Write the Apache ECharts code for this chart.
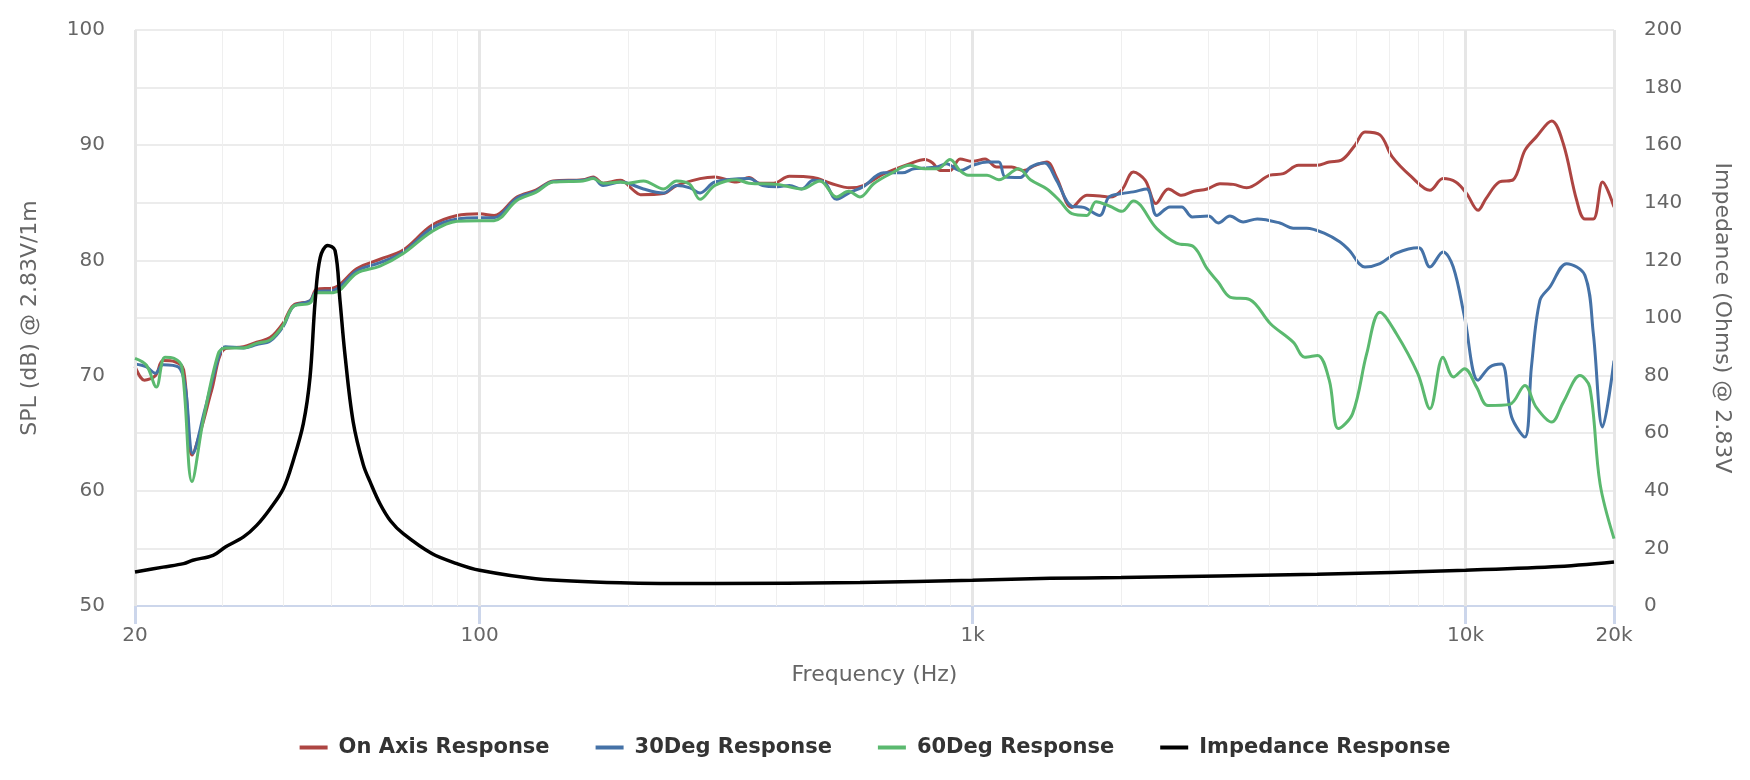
<!DOCTYPE html>
<html>
<head>
<meta charset="utf-8">
<script src="https://cdn.jsdelivr.net/npm/echarts@6/dist/echarts.min.js"></script>
<style>
html,body{margin:0;padding:0;background:#fff;}
#chart{width:1750px;height:780px;}
</style>
</head>
<body>
<div id="chart"></div>
<script>
// ---- data ----
const seriesNames = ['On Axis Response', '30Deg Response', '60Deg Response', 'Impedance Response'];
const xTickLabels = {20: '20', 100: '100', 1000: '1k', 10000: '10k', 20000: '20k'};
const majorFreqs = [20, 100, 1000, 10000, 20000];
const minorFreqs = [30, 40, 50, 60, 70, 80, 90, 200, 300, 400, 500, 600, 700, 800, 900,
  2000, 3000, 4000, 5000, 6000, 7000, 8000, 9000];

const onAxis = [
  [20, 70.8], [20.9, 69.6], [22, 70.0], [22.8, 71.3], [24.1, 71.2], [25.1, 70.5], [26.1, 63.1],
  [27.3, 65.5], [28.6, 68.7], [30.4, 72.3], [33.2, 72.5], [35.3, 72.9], [37.6, 73.3], [40.0, 74.6],
  [41.9, 76.1], [45.3, 76.5], [46.7, 77.5], [50.5, 77.6], [56.4, 79.3], [62.8, 80.1], [70, 80.9],
  [80, 83.05], [90, 83.9], [100, 84.05], [107, 83.9], [119, 85.5], [130, 86.1], [141, 86.9],
  [162, 87.0], [170, 87.25], [178, 86.7], [193, 86.95], [205, 86.1], [212, 85.7], [236, 85.8],
  [251, 86.5], [280, 87.1], [300, 87.25], [332, 86.8], [352, 87.2], [370, 86.7], [395, 86.7],
  [425, 87.3], [475, 87.2], [515, 86.7], [564, 86.3], [600, 86.5], [660, 87.5], [747, 88.4],
  [800, 88.75], [830, 88.45], [860, 87.8], [900, 87.8], [943, 88.8], [1000, 88.6], [1060, 88.8],
  [1119, 88.1], [1200, 88.1], [1268, 87.8], [1340, 88.25], [1415, 88.55], [1480, 87.2],
  [1590, 84.6], [1705, 85.65], [1813, 85.6], [1900, 85.5], [2007, 86.1], [2119, 87.67],
  [2240, 86.95], [2355, 84.93], [2495, 86.2], [2655, 85.65], [2810, 86.0], [2990, 86.2],
  [3175, 86.66], [3380, 86.6], [3597, 86.3], [4010, 87.4], [4269, 87.53], [4580, 88.25],
  [4980, 88.25], [5290, 88.54], [5600, 88.7], [5966, 90.0], [6250, 91.15], [6703, 90.9],
  [7100, 88.98], [7770, 87.24], [8466, 86.08], [9000, 87.1], [9550, 86.8], [10050, 85.8],
  [10600, 84.35], [11000, 85.36], [11700, 86.8], [12490, 87.0], [13190, 89.55], [13900, 90.7],
  [14950, 92.1], [15790, 90.1], [16800, 85.22], [17460, 83.6], [18160, 83.6], [18960, 86.8],
  [20000, 84.64]
];

const deg30 = [
  [20, 71.0], [21.1, 70.75], [22, 70.2], [22.8, 70.95], [24.5, 70.75], [25.3, 69.0], [26.2, 63.25],
  [27.7, 67.0], [29.7, 71.9], [30.5, 72.5], [33.2, 72.4], [35.3, 72.7], [37.6, 73.0], [40.0, 74.3],
  [41.9, 76.0], [45.3, 76.5], [46.7, 77.3], [50.5, 77.4], [56.4, 79.1], [62.8, 79.8], [70, 80.7],
  [80, 82.8], [90, 83.6], [100, 83.7], [107, 83.7], [119, 85.4], [130, 86.0], [141, 86.85],
  [162, 86.95], [170, 87.15], [178, 86.5], [193, 86.8], [200, 86.7], [215, 86.2], [236, 85.85],
  [251, 86.5], [267, 86.3], [280, 85.85], [300, 86.8], [352, 87.1], [375, 86.5], [402, 86.4],
  [425, 86.5], [450, 86.2], [475, 86.95], [500, 86.8], [530, 85.3], [564, 85.9], [600, 86.4],
  [660, 87.6], [720, 87.6], [760, 87.95], [846, 88.1], [885, 88.4], [943, 87.8], [1000, 88.25],
  [1070, 88.55], [1130, 88.55], [1165, 87.24], [1250, 87.2], [1310, 88.1], [1400, 88.45],
  [1480, 86.95], [1590, 84.7], [1680, 84.6], [1810, 83.9], [1890, 85.5], [2007, 85.8],
  [2119, 85.95], [2255, 86.2], [2364, 83.9], [2514, 84.64], [2655, 84.64], [2790, 83.77],
  [3010, 83.85], [3150, 83.25], [3326, 83.85], [3540, 83.34], [3780, 83.6], [4200, 83.25],
  [4470, 82.8], [4760, 82.8], [5190, 82.33], [5563, 81.6], [5800, 80.9], [6250, 79.43],
  [6703, 79.72], [7239, 80.64], [8030, 81.1], [8466, 79.43], [9000, 80.73], [9440, 79.43],
  [9950, 75.1], [10600, 69.6], [11200, 70.75], [11830, 71.0], [12400, 66.4], [13190, 64.66],
  [13600, 70.75], [14150, 76.53], [14830, 77.7], [16030, 79.72], [17460, 78.7], [18160, 73.64],
  [18960, 65.54], [20000, 71.3]
];

const deg60 = [
  [20, 71.5], [21.1, 70.9], [22.1, 69.0], [23.0, 71.6], [24.0, 71.5], [24.9, 70.75], [26.1, 60.8],
  [27.5, 66.1], [29.5, 71.9], [30.5, 72.4], [33.2, 72.4], [35.3, 72.8], [37.6, 73.1], [40.0, 74.4],
  [41.9, 76.0], [45.3, 76.3], [46.7, 77.2], [50.5, 77.2], [56.4, 78.9], [62.8, 79.5], [70, 80.6],
  [80, 82.5], [90, 83.4], [100, 83.45], [107, 83.45], [119, 85.2], [130, 85.9], [141, 86.8],
  [162, 86.9], [170, 87.1], [178, 86.7], [193, 86.8], [200, 86.7], [215, 86.9], [236, 86.2],
  [251, 86.9], [267, 86.6], [280, 85.3], [300, 86.5], [332, 87.0], [352, 86.7], [402, 86.6],
  [450, 86.2], [490, 86.9], [530, 85.5], [560, 86.0], [591, 85.5], [630, 86.65], [680, 87.5],
  [747, 88.25], [800, 87.95], [850, 87.95], [900, 88.75], [943, 87.8], [980, 87.4], [1070, 87.4],
  [1130, 87.0], [1240, 87.95], [1310, 87.0], [1415, 86.2], [1500, 85.2], [1590, 84.06],
  [1705, 83.9], [1780, 85.1], [1900, 84.7], [2007, 84.26], [2119, 85.16], [2364, 82.76],
  [2590, 81.5], [2810, 81.17], [2990, 79.28], [3150, 78.1], [3326, 76.82], [3650, 76.6],
  [4020, 74.5], [4470, 72.9], [4720, 71.6], [5010, 71.75], [5290, 69.6], [5520, 65.4],
  [5900, 66.7], [6301, 71.9], [6703, 75.5], [7239, 73.64], [8000, 70.17], [8466, 67.13],
  [9000, 71.6], [9450, 69.88], [9950, 70.6], [10530, 69.0], [11100, 67.4], [12290, 67.5],
  [13190, 69.15], [13900, 67.27], [14950, 65.97], [15790, 67.7], [17060, 70.0], [17860, 69.0],
  [18740, 60.6], [20000, 55.85]
];

const impedance = [
  [20, 11.8], [22.8, 13.5], [25.1, 14.7], [26.2, 15.9], [28.8, 17.6], [30.5, 20.5], [33.2, 24.0],
  [35.3, 28.0], [37.6, 33.8], [40.0, 40.8], [41.9, 50.6], [43.9, 63.3], [45.3, 79.5], [46.4, 106],
  [47.5, 121], [49.2, 125.2], [50.9, 123.5], [52.1, 106], [53.3, 87.6], [55.4, 64.0], [58.1, 49.0],
  [60, 43.0], [62.8, 35.5], [66, 29.5], [70, 25.1], [80, 18.2], [90, 14.7], [100, 12.4], [130, 9.5],
  [193, 8.1], [300, 7.8], [591, 8.2], [1000, 8.9], [1436, 9.6], [2000, 9.9], [5000, 11.0],
  [10000, 12.4], [15000, 13.6], [20000, 15.3]
];

const colors = ['#ad4542', '#4572a7', '#5bb96f', '#000000'];

// ---- chart ----
const chart = echarts.init(document.getElementById('chart'), null, {renderer: 'canvas'});
const font = 'DejaVu Sans';

function gridLines(list, width, color) {
  return {
    silent: true, symbol: 'none', animation: false,
    label: {show: false},
    lineStyle: {color: color, width: width, type: 'solid'},
    emphasis: {disabled: true},
    data: list.map(f => ({xAxis: f}))
  };
}

const lineSeries = [onAxis, deg30, deg60].map((d, i) => ({
  name: seriesNames[i], type: 'line', data: d, yAxisIndex: 0,
  smooth: 0.35, showSymbol: false, symbol: 'none',
  lineStyle: {color: colors[i], width: 3},
  itemStyle: {color: colors[i]},
  emphasis: {disabled: true}, z: 3 + i
}));

const option = {
  animation: false,
  backgroundColor: '#ffffff',
  grid: {left: 135, right: 136, top: 30, bottom: 174, containLabel: false},
  legend: {
    data: seriesNames, left: 'center', top: 732,
    icon: 'rect', itemWidth: 28, itemHeight: 4, itemGap: 46,
    textStyle: {fontFamily: font, fontWeight: 'bold', fontSize: 21, color: '#333333', padding: [0, 0, 0, 6]}
  },
  xAxis: {
    type: 'log', logBase: 10, min: 20, max: 20000,
    name: 'Frequency (Hz)', nameLocation: 'middle', nameGap: 58,
    nameTextStyle: {fontFamily: font, fontSize: 22, color: '#666666'},
    axisLine: {show: true, lineStyle: {color: '#ccd6eb', width: 2}},
    axisTick: {show: true, length: 18, lineStyle: {color: '#ccd6eb', width: 3}},
    axisLabel: {
      fontFamily: font, fontSize: 20, color: '#666666', margin: 20,
      showMinLabel: true, showMaxLabel: true,
      formatter: v => { const r = Math.round(v); return xTickLabels[r] !== undefined ? xTickLabels[r] : ''; }
    },
    splitLine: {show: false}
  },
  yAxis: [
    {
      type: 'value', min: 50, max: 100, interval: 10, position: 'left',
      name: 'SPL (dB) @ 2.83V/1m', nameLocation: 'middle', nameGap: 94, nameRotate: 90,
      nameTextStyle: {fontFamily: font, fontSize: 22, color: '#666666'},
      axisLine: {show: false}, axisTick: {show: false},
      axisLabel: {fontFamily: font, fontSize: 20, color: '#666666', margin: 30},
      splitLine: {show: false}
    },
    {
      type: 'value', min: 0, max: 200, interval: 20, position: 'right',
      name: 'Impedance (Ohms) @ 2.83V', nameLocation: 'middle', nameGap: 97, nameRotate: -90,
      nameTextStyle: {fontFamily: font, fontSize: 22, color: '#666666'},
      axisLine: {show: false}, axisTick: {show: false},
      axisLabel: {fontFamily: font, fontSize: 20, color: '#666666', margin: 30},
      splitLine: {show: true, lineStyle: {color: '#e6e6e6', width: 1.5}}
    }
  ],
  series: [
    {
      name: '_minorGrid', type: 'line', data: [], yAxisIndex: 0, z: 1, silent: true,
      markLine: gridLines(minorFreqs, 1, '#efefef')
    },
    {
      name: '_majorGrid', type: 'line', data: [], yAxisIndex: 0, z: 1, silent: true,
      markLine: gridLines(majorFreqs, 3, '#e6e6e6')
    },
    ...lineSeries,
    {
      name: seriesNames[3], type: 'line', data: impedance, yAxisIndex: 1,
      smooth: 0.35, showSymbol: false, symbol: 'none',
      lineStyle: {color: colors[3], width: 3.5},
      itemStyle: {color: colors[3]},
      emphasis: {disabled: true}, z: 7
    }
  ]
};
chart.setOption(option);
</script>
</body>
</html>
